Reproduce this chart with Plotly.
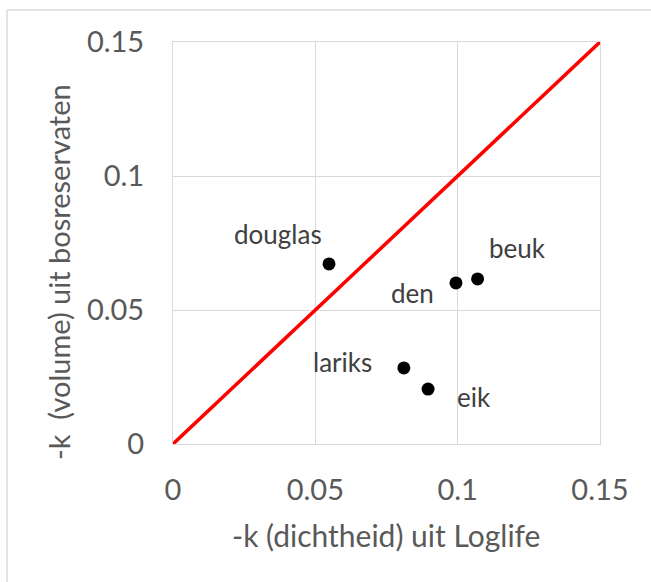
import plotly.graph_objects as go

species = ["douglas", "den", "beuk", "lariks", "eik"]
k_density = [0.0548, 0.0994, 0.1070, 0.0811, 0.0896]
k_volume = [0.0672, 0.0601, 0.0616, 0.0284, 0.0205]
label_dx = [-51, -43, 40, -61, 46]
label_dy = [30, -10, 31, 6, -8]
line_x = [0, 0.15]
line_y = [0, 0.15]
tick_vals = [0, 0.05, 0.1, 0.15]
tick_text = ["0", "0.05", "0.1", "0.15"]

FONT = "Lato"
L, R, T, B = 173, 51, 42, 138
W, H = 651, 582
pw, ph = W - L - R, H - T - B

fig = go.Figure()
fig.add_trace(go.Scatter(x=line_x, y=line_y, mode="lines",
                         line=dict(color="#ff0000", width=3.5), hoverinfo="skip"))
fig.add_trace(go.Scatter(x=k_density, y=k_volume, mode="markers",
                         marker=dict(color="black", size=13), cliponaxis=False))

for name, x, y, dx, dy in zip(species, k_density, k_volume, label_dx, label_dy):
    fig.add_annotation(x=x, y=y, text=name, showarrow=False, xshift=dx, yshift=dy,
                       xanchor="center", yanchor="middle",
                       font=dict(family=FONT, size=26, color="#404040"))

fig.add_annotation(xref="paper", yref="paper", x=(386 - L) / pw, y=(444 - 535) / ph,
                   xanchor="center", yanchor="middle",
                   text="-k (dichtheid) uit Loglife", showarrow=False,
                   font=dict(family=FONT, size=30, color="#595959"))
fig.add_annotation(xref="paper", yref="paper", x=(58 - L) / pw, y=(444 - 272) / ph,
                   xanchor="center", yanchor="middle",
                   text="-k  (volume) uit bosreservaten", showarrow=False, textangle=-90,
                   font=dict(family=FONT, size=29, color="#595959"))

# outer chart border
fig.add_shape(type="line", xref="paper", yref="paper",
              x0=(7 - L) / pw, x1=(W + 5 - L) / pw, y0=(444 - 10) / ph, y1=(444 - 10) / ph,
              line=dict(color="#e3e3e3", width=2))
fig.add_shape(type="line", xref="paper", yref="paper",
              x0=(7 - L) / pw, x1=(7 - L) / pw, y0=(444 - 10) / ph, y1=(444 - H - 5) / ph,
              line=dict(color="#e3e3e3", width=2))

axis_common = dict(range=[0, 0.15], tickvals=tick_vals, ticktext=tick_text,
                   showgrid=True, gridcolor="#d9d9d9", gridwidth=1,
                   showline=True, linecolor="#d9d9d9", linewidth=1, mirror=True,
                   zeroline=False, ticks="",
                   tickfont=dict(family=FONT, size=29, color="#595959"))
fig.update_xaxes(**axis_common, ticklabelstandoff=20)
fig.update_yaxes(**axis_common, ticklabelstandoff=22)

fig.update_layout(width=W, height=H, margin=dict(l=L, r=R, t=T, b=B),
                  paper_bgcolor="white", plot_bgcolor="white", showlegend=False)
fig.write_html("out.html")
